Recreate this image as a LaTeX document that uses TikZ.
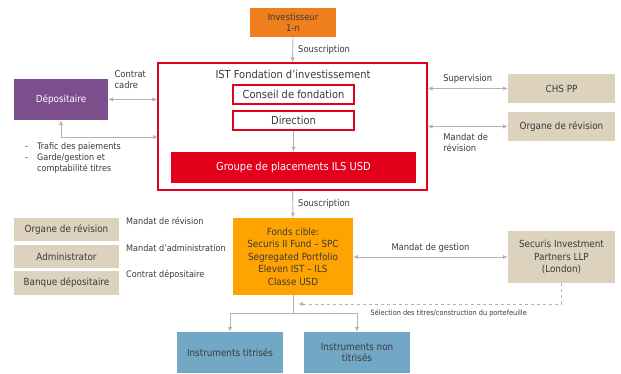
\documentclass[tikz,border=0pt]{standalone}
\usepackage{fontspec}
\setmainfont{DejaVu Sans Condensed}
\usepackage{tikz}
\usetikzlibrary{calc,arrows.meta}
\definecolor{invorange}{HTML}{EE7F1C}
\definecolor{fondsorange}{HTML}{FFA300}
\definecolor{istred}{HTML}{E2001A}
\definecolor{deppurple}{HTML}{7D4E8C}
\definecolor{tanbox}{HTML}{DDD2BE}
\definecolor{instblue}{HTML}{72A8C5}
\definecolor{linkgray}{HTML}{BDB0A8}
\definecolor{txtgray}{HTML}{3A3A3A}
\newcommand{\fs}[1]{\fontsize{#1}{1.2\dimexpr#1pt\relax}\selectfont}

\begin{document}
\begin{tikzpicture}[x=1pt,y=-1pt,
    every node/.style={text=txtgray,font=\fs{9.3},inner sep=1pt},
    box/.style={align=center,inner sep=2pt},
    lbl/.style={align=left,anchor=west},
    link/.style={draw=linkgray,line width=0.9pt},
    >={Latex[length=5pt,width=4.5pt]}]
  \useasboundingbox (0,0) rectangle (621,373);
  \node[box,fill=invorange,minimum width=86pt,minimum height=29pt] (inv) at (293,22.5) {Investisseur\\1-n};
  \node[draw=istred,line width=1.2pt,minimum width=269pt,minimum height=127pt] (ist) at (292.5,126.5) {};
  \node[font=\fs{11}] (isttitle) at (293,74) {IST Fondation d'investissement};
  \node[box,draw=istred,line width=1.2pt,fill=white,font=\fs{11},minimum width=121pt,minimum height=19pt] (conseil) at (293.5,94.5) {Conseil de fondation};
  \node[box,draw=istred,line width=1.2pt,fill=white,font=\fs{11},minimum width=121pt,minimum height=19pt] (dir) at (293.5,120.5) {Direction};
  \node[box,fill=istred,text=white,font=\fs{11},minimum width=245pt,minimum height=31pt] (groupe) at (293.5,167.5) {Groupe de placements ILS USD};
  \node[box,fill=deppurple,text=white,font=\fs{9.8},minimum width=94pt,minimum height=41pt] (dep) at (61,99.5) {Dépositaire};
  \node[box,fill=tanbox,font=\fs{9.8},minimum width=107pt,minimum height=29pt] (chs) at (561.5,88.5) {CHS PP};
  \node[box,fill=tanbox,font=\fs{9.8},minimum width=107pt,minimum height=29pt] (orgR) at (561.5,126.5) {Organe de révision};
  \node[box,fill=fondsorange,font={\fontsize{9.8}{12.5}\selectfont},minimum width=120pt,minimum height=77pt] (fonds) at (293,256.5) {Fonds cible:\\Securis II Fund -- SPC\\Segregated Portfolio\\Eleven IST -- ILS\\Classe USD};
  \node[box,fill=tanbox,font=\fs{9.8},minimum width=105pt,minimum height=23pt] (orgL) at (66.5,229.5) {Organe de révision};
  \node[box,fill=tanbox,font=\fs{9.8},minimum width=105pt,minimum height=23pt] (admin) at (66.5,256.5) {Administrator};
  \node[box,fill=tanbox,font=\fs{9.8},minimum width=105pt,minimum height=24pt] (banque) at (66.5,283) {Banque dépositaire};
  \node[box,fill=tanbox,font={\fontsize{9.8}{12.5}\selectfont},minimum width=107pt,minimum height=52pt] (securis) at (561.5,257) {Securis Investment\\Partners LLP\\(London)};
  \node[box,fill=instblue,font=\fs{9.8},minimum width=106pt,minimum height=41pt] (titr) at (230,352.5) {Instruments titrisés};
  \node[box,fill=instblue,font=\fs{9.8},minimum width=106pt,minimum height=41pt] (nontitr) at (357,352.5) {Instruments non\\titrisés};
  \coordinate (depin) at (158,137);
  \coordinate (selend) at (298,304);
  \coordinate (split) at (293,313);
  \draw[link,->] (inv.south) -- (ist.north) node[lbl,midway,xshift=4pt] {Souscription};
  \draw[link,<->] (dep.east) -- (dep.east -| ist.west) node[lbl,anchor=south west,pos=0.1,yshift=9pt] {Contrat\\cadre};
  \draw[link,<->] (dep.south) |- (depin);
  \node[anchor=north west,font=\fs{9}] (deplist) at (24,141) {\begin{tabular}{@{}l@{\hspace{9pt}}l@{}}-&Trafic des paiements\\-&Garde/gestion et\\&comptabilité titres\end{tabular}};
  \draw[link,<->] (ist.east |- chs.west) -- (chs.west) node[midway,above=4pt] {Supervision};
  \draw[link,<->] (ist.east |- orgR.west) -- (orgR.west) node[lbl,anchor=north west,pos=0.18,yshift=-5pt] {Mandat de\\révision};
  \draw[link,->] (dir.south) -- (groupe.north);
  \draw[link,->] (ist.south) -- (fonds.north) node[lbl,midway,xshift=4pt] {Souscription};
  \node[lbl,font=\fs{9}] (mrev) at (125,221) {Mandat de révision};
  \node[lbl,font=\fs{9}] (madm) at (125,248) {Mandat d'administration};
  \node[lbl,font=\fs{9}] (cdep) at (125,275) {Contrat dépositaire};
  \draw[link,<->] (fonds.east |- securis.west) -- (securis.west) node[midway,above=3pt] {Mandat de gestion};
  \draw[link,dashed,->] (securis.south) |- (selend) node[pos=0.714,below=4pt,font=\fs{7.3}] {Sélection des titres/construction du portefeuille};
  \draw[link] (fonds.south) -- (split);
  \draw[link,->] (split) -| (titr.north);
  \draw[link,->] (split) -| (nontitr.north);
\end{tikzpicture}
\end{document}
